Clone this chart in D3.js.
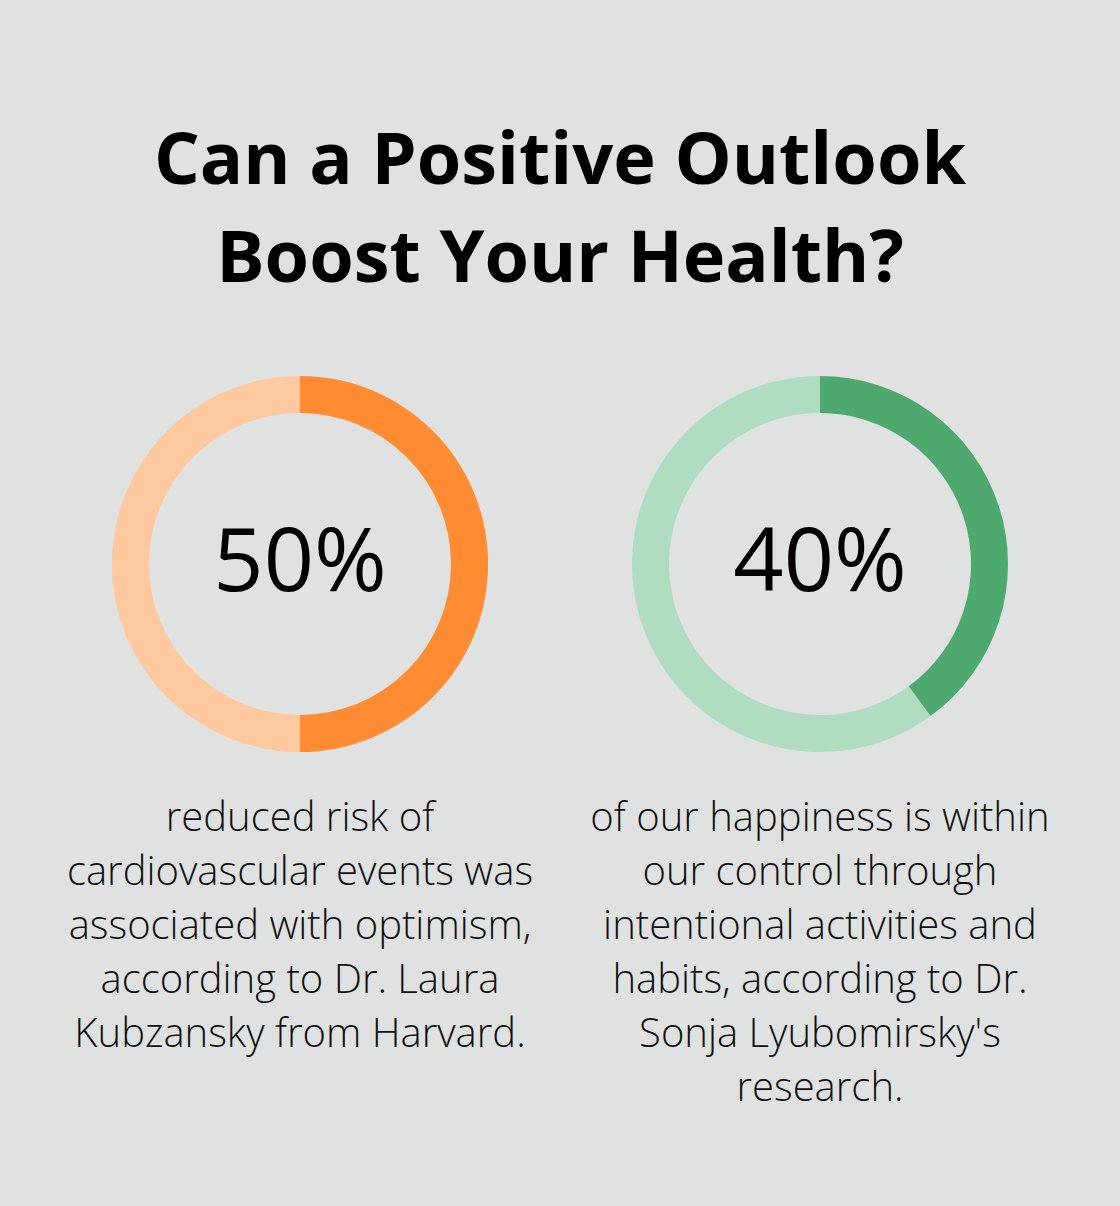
<!DOCTYPE html>
<html><head><meta charset="utf-8">
<script src="https://cdn.jsdelivr.net/npm/d3@7"></script>
<style>html,body{margin:0;padding:0;background:#e0e2e1;}svg{display:block;}</style>
</head><body>
<script>
const titleLines = ["Can a Positive Outlook", "Boost Your Health?"];
const percents = [50, 40];
const percentLabels = ["50%", "40%"];
const descriptions = [
  ["reduced risk of", "cardiovascular events was", "associated with optimism,", "according to Dr. Laura", "Kubzansky from Harvard."],
  ["of our happiness is within", "our control through", "intentional activities and", "habits, according to Dr.", "Sonja Lyubomirsky's", "research."]
];
const mainColors = ["#ff8c33", "#4ea96f"];
const lightColors = ["#ffc9a0", "#b0dcc2"];

const W = 1120, H = 1206;
const svg = d3.select("body").append("svg").attr("width", W).attr("height", H);
svg.append("rect").attr("width", W).attr("height", H).attr("fill", "#e0e2e1");

svg.append("g").selectAll("text").data(titleLines).join("text")
  .attr("x", W/2).attr("y", (d,i) => 184 + i*98)
  .attr("text-anchor", "middle")
  .attr("font-family", "'Open Sans', sans-serif").attr("font-weight", 700)
  .attr("font-size", 72).attr("fill", "#000").text(d => d);

const x = d3.scaleBand().domain(d3.range(percents.length)).range([40, 1080]);
const cy = 564, rOuter = 188, rInner = 151;
const arc = d3.arc().innerRadius(rInner).outerRadius(rOuter);
const angle = d3.scaleLinear().domain([0, 100]).range([0, 2*Math.PI]);

percents.forEach((p, i) => {
  const cx = x(i) + x.bandwidth()/2;
  const g = svg.append("g").attr("transform", `translate(${cx},${cy})`);
  g.append("path").attr("d", arc({startAngle: angle(p), endAngle: angle(100)})).attr("fill", lightColors[i]);
  g.append("path").attr("d", arc({startAngle: 0, endAngle: angle(p)})).attr("fill", mainColors[i]);
  g.append("text").attr("x", 0).attr("y", 27).attr("text-anchor", "middle")
    .attr("font-family", "'Open Sans', sans-serif").attr("font-weight", 500)
    .attr("font-size", 88).attr("fill", "#000").text(percentLabels[i]);
  svg.append("g").selectAll("text").data(descriptions[i]).join("text")
    .attr("x", cx).attr("y", (d,j) => 831 + j*54).attr("text-anchor", "middle")
    .attr("font-family", "'Open Sans', sans-serif").attr("font-weight", 300)
    .attr("font-size", 40).attr("fill", "#111").text(d => d);
});
</script>
</body></html>
